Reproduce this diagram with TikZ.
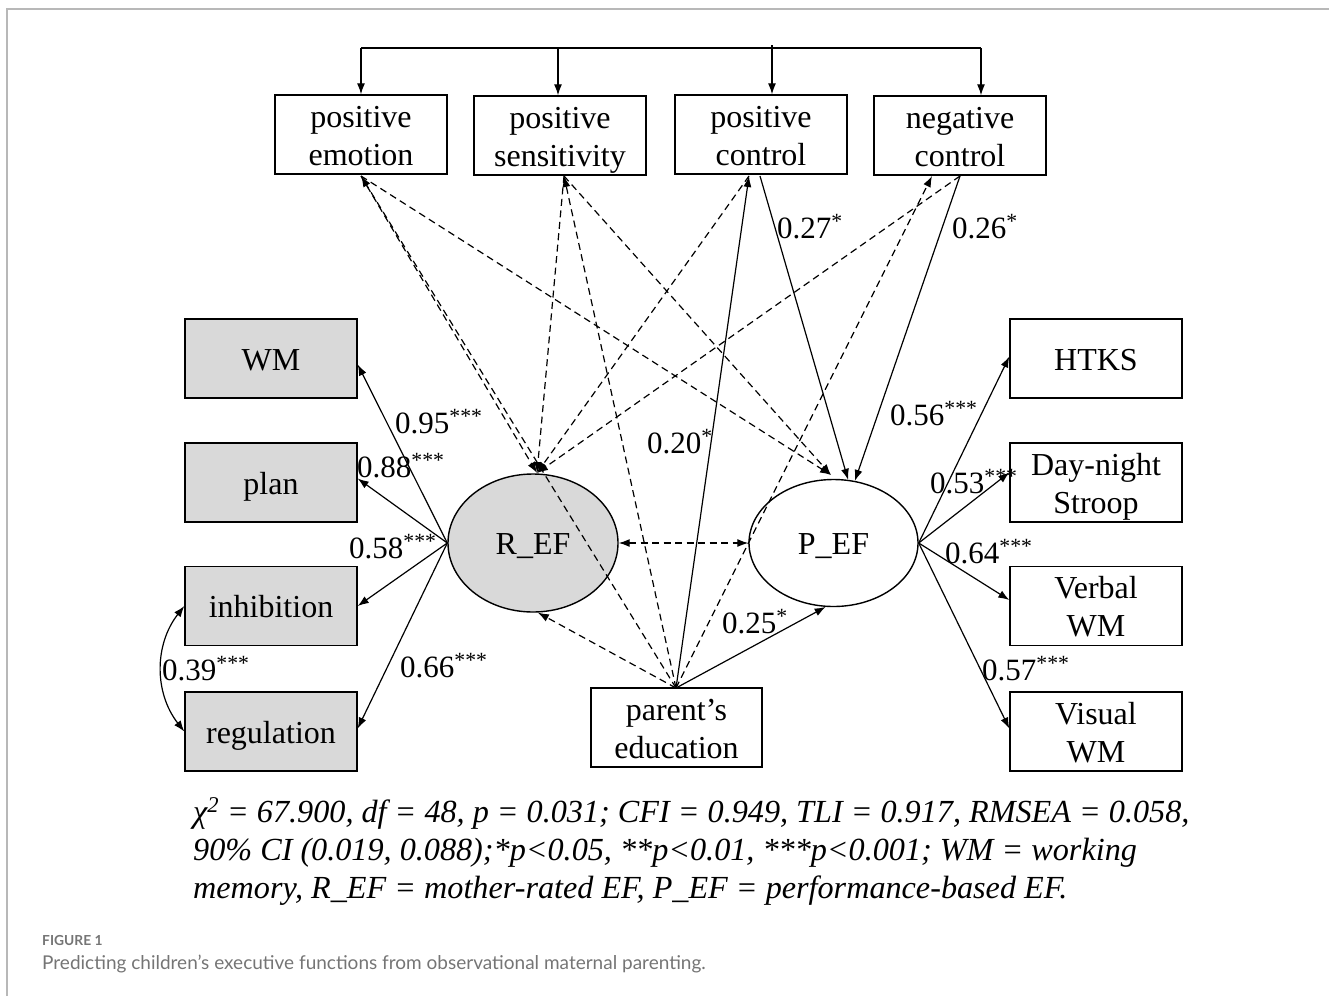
\documentclass[tikz,border=0pt]{standalone}
\usepackage{fontspec}
\setmainfont{Liberation Serif}
\newfontfamily\capfont{Lato}
\usetikzlibrary{arrows.meta,calc,shapes.geometric}
\definecolor{boxgray}{HTML}{D9D9D9}
\definecolor{framegray}{HTML}{B8B8B8}
\definecolor{capgray}{HTML}{757575}
\newcommand\mystrut{\rule[-6.8pt]{0pt}{36.8pt}}
\begin{document}
\begin{tikzpicture}[x=1pt,y=-1pt,
  box/.style={draw,line width=1.4pt,minimum width=171pt,minimum height=79pt,inner sep=0pt,align=center,font=\fontsize{32}{38}\selectfont},
  gbox/.style={box,fill=boxgray},
  lat/.style={draw,ellipse,line width=1.4pt,inner sep=0pt,font=\fontsize{32}{38}\selectfont},
  sarr/.style={line width=1.2pt,-{Latex[length=11pt,width=8pt]}},
  darr/.style={sarr,dash pattern=on 7pt off 4.5pt},
  lbl/.style={anchor=base west,inner sep=0pt,font=\fontsize{31}{34}\selectfont},
  stat/.style={anchor=base west,inner sep=0pt,font=\fontsize{32.2}{38}\selectfont\itshape},
]
\useasboundingbox (0,0) rectangle (1329,996);
% frame
\draw[framegray,line width=2pt] (7,996) -- (7,9) -- (1329,9);

% top boxes
\node[box,minimum width=172pt] (emo) at (361,134.5) {positive\mystrut\\emotion\mystrut};
\node[box,minimum width=172pt] (sens) at (560,135.5) {positive\mystrut\\sensitivity\mystrut};
\node[box,minimum width=172pt] (pctl) at (761,134.5) {positive\mystrut\\control\mystrut};
\node[box,minimum width=172pt] (nctl) at (960,135.5) {negative\mystrut\\control\mystrut};

% left boxes
\node[gbox,minimum width=172pt] (wm) at (271,358.5) {WM\mystrut};
\node[gbox,minimum width=172pt] (plan) at (271,482.5) {plan\mystrut};
\node[gbox,minimum width=172pt] (inh) at (271,606) {inhibition\mystrut};
\node[gbox,minimum width=172pt] (reg) at (271,731.5) {regulation\mystrut};

% right boxes
\node[box,minimum width=172pt] (htks) at (1096,358.5) {HTKS\mystrut};
\node[box,minimum width=172pt] (day) at (1096,482.5) {Day-night\mystrut\\Stroop\mystrut};
\node[box,minimum width=172pt] (verb) at (1096,606) {Verbal\mystrut\\WM\mystrut};
\node[box,minimum width=172pt] (vis) at (1096,731.5) {Visual\mystrut\\WM\mystrut};

% parent education
\node[box,minimum width=171pt] (edu) at (676.5,727.5) {parent’s\mystrut\\education\mystrut};

% latent
\node[lat,fill=boxgray,minimum width=170pt,minimum height=138pt] (ref) at (533,543) {R\_EF\mystrut};
\node[lat,minimum width=169pt,minimum height=127pt] (pef) at (833.5,543) {P\_EF\mystrut};

% top bracket
\coordinate (b1) at (361,48);
\coordinate (b2) at (558,48);
\coordinate (b3) at (772,48);
\coordinate (b4) at (981,48);
\coordinate (b3t) at (772,45);
\draw[line width=1.2pt] (b1) -- (b4);
\draw[line width=1.2pt] (b3t) -- (b3);
\draw[sarr] (b1) -- (emo.north -| b1);
\draw[sarr] (b2) -- (sens.north -| b2);
\draw[sarr] (b3) -- (pctl.north -| b3);
\draw[sarr] (b4) -- (nctl.north -| b4);

% anchor coordinates on parenting boxes
\coordinate (emoB) at (361,176);
\coordinate (sensB) at (564,176);
\coordinate (pctlB) at (749,176);
\coordinate (pctlB2) at (760,176);
\coordinate (nctlB) at (932,176);
\coordinate (nctlB2) at (960,176);
\coordinate (refT) at (537,473);
\coordinate (pefT) at (831,475);
\coordinate (eduT) at (676,688);

% parenting -> R_EF (dashed)
\draw[darr] (emoB) -- (refT);
\draw[darr] (sensB) -- (refT);
\draw[darr] (pctlB) -- (refT);
\draw[darr] (nctlB2) -- (refT);
% parenting -> P_EF
\draw[darr] (emoB) -- (pefT);
\draw[darr] (sensB) -- (pefT);
\draw[sarr] (pctlB2) -- (pef.77);
\draw[sarr] (nctlB2) -- (pef.71);
% education -> parenting
\draw[darr] (eduT) -- (emoB);
\draw[darr] (eduT) -- (sensB);
\draw[sarr] (eduT) -- (pctlB);
\draw[darr] (eduT) -- (nctlB);
% education -> latent
\draw[darr] (eduT) -- (ref.-86);
\draw[sarr] (eduT) -- (pef.-97);
% latent covariance
\draw[darr,{Latex[length=11pt,width=8pt]}-{Latex[length=11pt,width=8pt]}] (ref.east) -- (pef.west);

% loadings R_EF
\draw[sarr] (ref.west) -- ($(wm.east)+(0,6)$);
\draw[sarr] (ref.west) -- ($(plan.east)+(0,-4)$);
\draw[sarr] (ref.west) -- (inh.east);
\draw[sarr] (ref.west) -- ($(reg.east)+(0,-3)$);
% loadings P_EF
\draw[sarr] (pef.east) -- ($(htks.west)+(0,-2)$);
\draw[sarr] (pef.east) -- ($(day.west)+(0,-10)$);
\draw[sarr] (pef.east) -- ($(verb.west)+(0,-6)$);
\draw[sarr] (pef.east) -- ($(vis.west)+(0,-3)$);
% residual covariance
\draw[line width=1.2pt,{Latex[length=11pt,width=8pt]}-{Latex[length=11pt,width=8pt]}] (inh.west) to[bend right=38] (reg.west);

% labels
\node[lbl] (l95) at (395,433) {0.95\textsuperscript{***}};
\node[lbl] (l88) at (357,477) {0.88\textsuperscript{***}};
\node[lbl] (l58) at (349,558) {0.58\textsuperscript{***}};
\node[lbl] (l66) at (400,677) {0.66\textsuperscript{***}};
\node[lbl] (l39) at (162,680) {0.39\textsuperscript{***}};
\node[lbl] (l20) at (647,453) {0.20\textsuperscript{*}};
\node[lbl] (l27) at (777,238) {0.27\textsuperscript{*}};
\node[lbl] (l26) at (952,238) {0.26\textsuperscript{*}};
\node[lbl] (l56) at (890,425) {0.56\textsuperscript{***}};
\node[lbl] (l53) at (930,493) {0.53\textsuperscript{***}};
\node[lbl] (l64) at (945,563) {0.64\textsuperscript{***}};
\node[lbl] (l57) at (982,680) {0.57\textsuperscript{***}};
\node[lbl] (l25) at (722,633) {0.25\textsuperscript{*}};

% statistics note
\node[stat] (s1) at (193,822) {χ\textsuperscript{2} = 67.900, df = 48, p = 0.031; CFI = 0.949, TLI = 0.917, RMSEA = 0.058,};
\node[stat] (s2) at (193,860) {90\% CI (0.019, 0.088);*p<0.05, **p<0.01, ***p<0.001; WM = working};
\node[stat] (s3) at (193,898) {memory, R\_EF = mother-rated EF, P\_EF = performance-based EF.};

% caption
\node[anchor=base west,inner sep=0pt,font=\capfont\bfseries\fontsize{13.8}{16}\selectfont,text=capgray] (fig) at (42,945) {FIGURE 1};
\node[anchor=base west,inner sep=0pt,font=\capfont\fontsize{19}{22}\selectfont,text=capgray] (cap) at (42,969) {Predicting children’s executive functions from observational maternal parenting.};
\end{tikzpicture}
\end{document}
